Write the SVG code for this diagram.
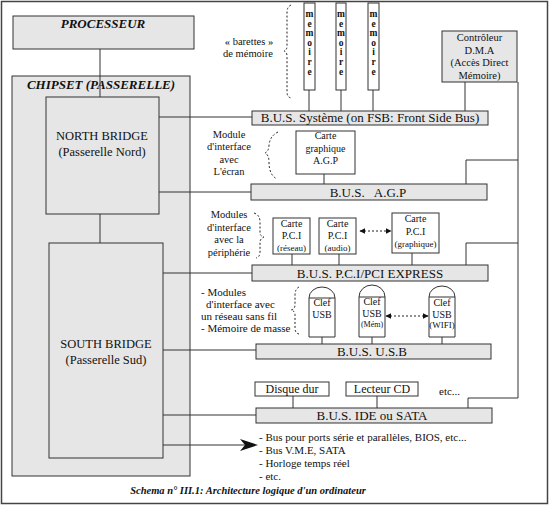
<svg xmlns="http://www.w3.org/2000/svg" width="550" height="506" viewBox="0 0 550 506">
<style>
text{font-family:"Liberation Serif","DejaVu Serif","Times New Roman",serif;fill:#111;}
.g{fill:#e6e6e6;stroke:#333;stroke-width:1;}
.w{fill:#fff;stroke:#333;stroke-width:1;}
.ln{fill:none;stroke:#333;stroke-width:1;}
.dash{fill:none;stroke:#222;stroke-width:1;stroke-dasharray:2,2;}
.bi{font-weight:bold;font-style:italic;}
.c{text-anchor:middle;}
.bus{font-size:13px;text-anchor:middle;}
.s10{font-size:10px;}
.lab{font-size:10.5px;text-anchor:middle;}
.s11{font-size:11px;}
.mem{font-size:9.5px;font-weight:bold;text-anchor:middle;}
</style>
<defs>
<marker id="ah" viewBox="0 0 10 10" refX="9" refY="5" markerWidth="6" markerHeight="6" orient="auto-start-reverse" markerUnits="userSpaceOnUse">
<path d="M0,0 L10,5 L0,10 Z" fill="#111"/>
</marker>
</defs>
<rect x="1.5" y="1.5" width="546" height="502" fill="#fff" stroke="#444" stroke-width="1.5"/>

<g id="chipset">
<rect class="g" x="12" y="76" width="178" height="400"/>
<text class="bi c" x="101" y="89" font-size="13">CHIPSET (PASSERELLE)</text>
</g>

<g id="connectors">
<path class="ln" d="M100,49 V97"/>
<path class="ln" d="M100,214 V243"/>
<path class="ln" d="M159,117 H252"/>
<path class="ln" d="M159,192 H251"/>
<path class="ln" d="M163,273 H252"/>
<path class="ln" d="M163,350 H256"/>
<path class="ln" d="M163,415 H256"/>
<path class="ln" d="M163,445 H245"/>
<path d="M258,445 L240,439 L245,445 L240,451 Z" fill="#111"/>
<path class="ln" d="M309,90 V111 M341,90 V111 M373,90 V111"/>
<path class="ln" d="M465,82 V111"/>
<path class="ln" d="M518,82 V398 H468 V408"/>
<path class="ln" d="M518,160 H466 V184"/>
<path class="ln" d="M518,243 H466 V265"/>
<path class="ln" d="M324,174 V184"/>
<path class="ln" d="M292,254 V265 M339,254 V265 M412,253 V265"/>
<path class="ln" d="M322,337 V344 M372,337 V344 M442,337 V344"/>
<path class="ln" d="M293,396 V408 M377,396 V408"/>
<path class="dash" d="M360,231 H391" marker-start="url(#ah)" marker-end="url(#ah)"/>
<path class="dash" d="M386,316 H428" marker-start="url(#ah)" marker-end="url(#ah)"/>
<path class="dash" d="M291,5 Q287,7 287,12 L287,46 Q287,50 284,51 Q287,52 287,56 L287,92 Q287,97 291,98"/>
<path class="dash" d="M278,132 Q270,136 269,145 Q269,151 265,153 Q269,155 269,162 Q269,175 277,179"/>
<path class="dash" d="M254,213 Q260,215 260,222 L260,233 Q260,236 264,237 Q260,239 260,242 L260,252 Q260,257 256,258"/>
<path class="dash" d="M299,287 Q295,289 295,295 L295,305 Q295,309 291,310 Q295,311 295,315 L295,328 Q295,333 299,334"/>
</g>

<g id="processeur">
<rect class="g" x="13" y="16" width="181" height="33"/>
<text class="bi c" x="103" y="28" font-size="13">PROCESSEUR</text>
</g>

<g id="north-bridge">
<rect class="g" x="46" y="97" width="113" height="117"/>
<text class="c" x="102" y="140" font-size="12.5">NORTH BRIDGE</text>
<text class="c" x="102" y="156" font-size="12.5">(Passerelle Nord)</text>
</g>

<g id="south-bridge">
<rect class="g" x="49" y="243" width="114" height="215"/>
<text class="c" x="106" y="348" font-size="12.5">SOUTH BRIDGE</text>
<text class="c" x="106" y="364" font-size="12.5">(Passerelle Sud)</text>
</g>

<g id="memoire-1">
<rect class="w" x="304" y="3" width="11" height="87"/>
<text class="mem"><tspan x="309.5" y="17">m</tspan><tspan x="309.5" dy="9.6">e</tspan><tspan x="309.5" dy="9.6">m</tspan><tspan x="309.5" dy="9.6">o</tspan><tspan x="309.5" dy="9.6">i</tspan><tspan x="309.5" dy="9.6">r</tspan><tspan x="309.5" dy="9.6">e</tspan></text>
</g>
<g id="memoire-2">
<rect class="w" x="336" y="3" width="10" height="87"/>
<text class="mem"><tspan x="341" y="17">m</tspan><tspan x="341" dy="9.6">e</tspan><tspan x="341" dy="9.6">m</tspan><tspan x="341" dy="9.6">o</tspan><tspan x="341" dy="9.6">i</tspan><tspan x="341" dy="9.6">r</tspan><tspan x="341" dy="9.6">e</tspan></text>
</g>
<g id="memoire-3">
<rect class="w" x="368" y="3" width="11" height="87"/>
<text class="mem"><tspan x="373.5" y="17">m</tspan><tspan x="373.5" dy="9.6">e</tspan><tspan x="373.5" dy="9.6">m</tspan><tspan x="373.5" dy="9.6">o</tspan><tspan x="373.5" dy="9.6">i</tspan><tspan x="373.5" dy="9.6">r</tspan><tspan x="373.5" dy="9.6">e</tspan></text>
</g>
<g id="barettes-label">
<text class="lab" x="249" y="45" font-size="11">« barettes »</text>
<text class="lab" x="248" y="57" font-size="11">de mémoire</text>
</g>

<g id="dma">
<rect class="g" x="442" y="31" width="75" height="51"/>
<text class="c" x="479.5" y="41" font-size="10.5">Contrôleur</text>
<text class="c" x="479.5" y="54" font-size="10.5">D.M.A</text>
<text class="c" x="479.5" y="66" font-size="10.5">(Accès Direct</text>
<text class="c" x="479.5" y="79" font-size="10.5">Mémoire)</text>
</g>

<g id="bus-systeme">
<rect class="g" x="252" y="111" width="236" height="14"/>
<text class="bus" x="370" y="122">B.U.S. Système (on FSB: Front Side Bus)</text>
</g>

<g id="agp-label">
<text class="lab" x="229" y="138">Module</text>
<text class="lab" x="229" y="150">d'interface</text>
<text class="lab" x="229" y="163">avec</text>
<text class="lab" x="229" y="175">L'écran</text>
</g>
<g id="carte-agp">
<rect class="w" x="296" y="131" width="59" height="43"/>
<text class="c s10" x="325.5" y="139">Carte</text>
<text class="c s10" x="325.5" y="152">graphique</text>
<text class="c s10" x="325.5" y="164">A.G.P</text>
</g>
<g id="bus-agp">
<rect class="g" x="251" y="184" width="236" height="16"/>
<text class="bus" x="368" y="197" xml:space="preserve">B.U.S.   A.G.P</text>
</g>

<g id="pci-label">
<text class="lab" x="229" y="218">Modules</text>
<text class="lab" x="229" y="231">d'interface</text>
<text class="lab" x="229" y="243">avec la</text>
<text class="lab" x="229" y="256">périphérie</text>
</g>
<g id="carte-pci-reseau">
<rect class="w" x="273" y="218" width="37" height="36"/>
<text class="c s10" x="291.5" y="227">Carte</text>
<text class="c s10" x="291.5" y="239">P.C.I</text>
<text class="c" x="291.5" y="251" font-size="9">(réseau)</text>
</g>
<g id="carte-pci-audio">
<rect class="w" x="319" y="218" width="37" height="36"/>
<text class="c s10" x="337.5" y="227">Carte</text>
<text class="c s10" x="337.5" y="239">P.C.I</text>
<text class="c" x="337.5" y="251" font-size="9">(audio)</text>
</g>
<g id="carte-pci-graphique">
<rect class="w" x="392" y="213" width="47" height="40"/>
<text class="c s10" x="415.5" y="222">Carte</text>
<text class="c s10" x="415.5" y="235">P.C.I</text>
<text class="c" x="415.5" y="247" font-size="9">(graphique)</text>
</g>
<g id="bus-pci">
<rect class="g" x="252" y="265" width="236" height="16"/>
<text class="bus" x="370" y="278">B.U.S. P.C.I/PCI EXPRESS</text>
</g>

<g id="usb-label">
<text class="s11" x="201" y="296">- Modules</text>
<text class="s11" x="206" y="308">d'interface avec</text>
<text class="s11" x="201" y="320">un réseau sans fil</text>
<text class="s11" x="201" y="332">- Mémoire de masse</text>
</g>
<g id="clef-usb-1">
<path class="w" d="M309,337 V298 A13,11 0 0 1 335,298 V337 Z M309,298 H335"/>
<text class="c s10" x="322" y="306">Clef</text>
<text class="c s10" x="322" y="318">USB</text>
</g>
<g id="clef-usb-mem">
<path class="w" d="M359,337 V297 A13,12 0 0 1 385,297 V337 Z M359,297 H385"/>
<text class="c s10" x="372" y="305">Clef</text>
<text class="c s10" x="372" y="317">USB</text>
<text class="c" x="372" y="327" font-size="8">(Mém)</text>
</g>
<g id="clef-usb-wifi">
<path class="w" d="M429,337 V297 A13,11 0 0 1 455,297 V337 Z M429,297 H455"/>
<text class="c s10" x="442" y="306">Clef</text>
<text class="c s10" x="442" y="318">USB</text>
<text class="c" x="442" y="328" font-size="9">(WIFI)</text>
</g>
<g id="bus-usb">
<rect class="g" x="256" y="344" width="235" height="15"/>
<text class="bus" x="372" y="356">B.U.S. U.S.B</text>
</g>

<g id="disque-dur">
<rect class="w" x="255" y="382" width="74" height="14"/>
<text class="c" x="292" y="393" font-size="12">Disque dur</text>
</g>
<g id="lecteur-cd">
<rect class="w" x="346" y="382" width="72" height="14"/>
<text class="c" x="382" y="393" font-size="12">Lecteur CD</text>
</g>
<g id="etc">
<text x="439" y="395" font-size="11">etc...</text>
</g>
<g id="bus-ide">
<rect class="g" x="256" y="408" width="236" height="15"/>
<text class="bus" x="372" y="420">B.U.S. IDE ou SATA</text>
</g>

<g id="autres">
<text class="s11" x="259" y="441">- Bus pour ports série et parallèles, BIOS, etc...</text>
<text class="s11" x="259" y="454">- Bus V.M.E, SATA</text>
<text class="s11" x="259" y="467">- Horloge temps réel</text>
<text class="s11" x="259" y="480">- etc.</text>
</g>
<g id="caption">
<text class="bi c" x="248" y="494" font-size="10.5">Schema n° III.1: Architecture logique d'un ordinateur</text>
</g>
</svg>
